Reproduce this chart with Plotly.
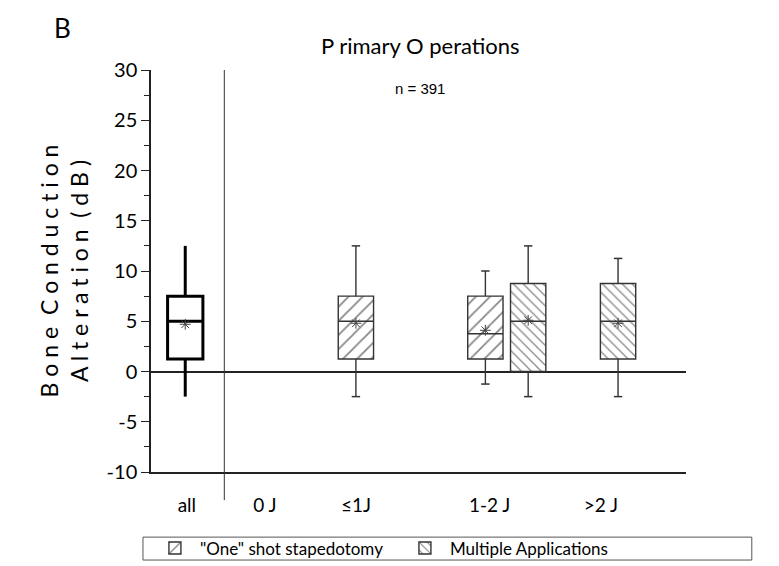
import plotly.graph_objects as go

# Bone conduction alteration (dB) per energy group, primary operations
categories = ["all", "0 J", "≤1J", "1-2 J", ">2 J"]
tick_pos = [0.67, 2.13, 3.83, 6.33, 8.41]
y_ticks = [-10, -5, 0, 5, 10, 15, 20, 25, 30]
y_tick_text = ["-10", "-5", "0", "5", "10", "15", "20", "25", "30"]

# Box statistics: lower whisker, Q1, median, Q3, upper whisker, mean
all_stats = dict(lo=-2.5, q1=1.25, med=5.0, q3=7.5, hi=12.5, mean=4.7)

one_shot_pos = [3.83, 6.25]
one_shot_lo = [-2.5, -1.25]
one_shot_q1 = [1.25, 1.25]
one_shot_med = [5.0, 3.75]
one_shot_q3 = [7.5, 7.5]
one_shot_hi = [12.5, 10.0]
one_shot_mean = [4.8, 4.1]

multi_pos = [7.05, 8.73]
multi_lo = [-2.5, -2.5]
multi_q1 = [0.0, 1.25]
multi_med = [5.0, 5.0]
multi_q3 = [8.75, 8.75]
multi_hi = [12.5, 11.25]
multi_mean = [5.1, 4.8]

all_pos = 0.64
separator_x = 1.37
box_w = 0.66

FONT = "Lato, Liberation Sans, sans-serif"
fig = go.Figure()


def add_boxes(pos, lo, q1, med, q3, hi, mean, name, shape, hatch, line_color,
              lw, show_legend, caps=True):
    fig.add_trace(go.Bar(
        x=pos, y=[b - a for a, b in zip(q1, q3)], base=q1, width=box_w,
        name=name, showlegend=show_legend,
        marker=dict(color="white", line=dict(color=line_color, width=lw),
                    pattern=dict(shape=shape, fgcolor="#111", bgcolor="white",
                                 size=hatch, solidity=0.18) if shape else None),
    ))
    wx, wy, mx, my = [], [], [], []
    for p, a, b, m, c, d in zip(pos, lo, q1, med, q3, hi):
        wx += [p, p, None, p, p, None]
        wy += [c, d, None, b, a, None]
        mx += [p - box_w / 2, p + box_w / 2, None]
        my += [m, m, None]
    fig.add_trace(go.Scatter(x=wx, y=wy, mode="lines", showlegend=False,
                             line=dict(color=line_color, width=lw),
                             hoverinfo="skip"))
    fig.add_trace(go.Scatter(x=mx, y=my, mode="lines", showlegend=False,
                             line=dict(color=line_color, width=lw),
                             hoverinfo="skip"))
    if caps:
        fig.add_trace(go.Scatter(
            x=pos + pos, y=lo + hi, mode="markers", showlegend=False,
            marker=dict(symbol="line-ew", size=6, color=line_color,
                        line=dict(color=line_color, width=1.5)),
            hoverinfo="skip"))
    fig.add_trace(go.Scatter(
        x=pos, y=mean, mode="markers", showlegend=False,
        marker=dict(symbol="asterisk-open", size=9, color="#444",
                    line=dict(color="#444", width=1)),
        hoverinfo="skip"))


add_boxes([all_pos], [all_stats["lo"]], [all_stats["q1"]], [all_stats["med"]],
          [all_stats["q3"]], [all_stats["hi"]], [all_stats["mean"]],
          "all", None, 0, "black", 3, False, caps=False)
add_boxes(one_shot_pos, one_shot_lo, one_shot_q1, one_shot_med, one_shot_q3,
          one_shot_hi, one_shot_mean, '"One" shot stapedotomy', "/", 10,
          "#333", 1.4, True)
add_boxes(multi_pos, multi_lo, multi_q1, multi_med, multi_q3, multi_hi,
          multi_mean, "Multiple Applications", "\\", 7, "#333", 1.4, True)

# vertical separator between "all" and the energy groups
fig.add_shape(type="line", xref="x", yref="paper", x0=separator_x,
              x1=separator_x, y0=-0.07, y1=1.0,
              line=dict(color="#333", width=1))

# frame around the legend row
fig.add_shape(type="rect", xref="paper", yref="paper",
              x0=-0.015, x1=1.123, y0=-0.219, y1=-0.162,
              line=dict(color="#555", width=1))

fig.add_annotation(text="B", xref="paper", yref="paper", x=-0.185, y=1.105,
                   xanchor="left", yanchor="middle", showarrow=False,
                   font=dict(family=FONT, size=26, color="black"))
fig.add_annotation(text="P rimary O perations", xref="paper",
                   yref="paper", x=0.503, y=1.062, xanchor="center",
                   yanchor="middle", showarrow=False,
                   font=dict(family=FONT, size=22, color="black"))
fig.add_annotation(text="n = 391", xref="paper", yref="paper",
                   x=0.503, y=0.955, xanchor="center", yanchor="middle",
                   showarrow=False,
                   font=dict(family="Liberation Sans, Arial, sans-serif",
                             size=15, color="black"))

fig.update_layout(
    width=779, height=566,
    margin=dict(l=151, r=93, t=70, b=94, autoexpand=False),
    paper_bgcolor="white", plot_bgcolor="white",
    barmode="overlay",
    font=dict(family=FONT, color="black"),
    xaxis=dict(range=[0, 10], tickvals=tick_pos, ticktext=categories,
               showgrid=False, zeroline=False, showline=True,
               linecolor="#222", linewidth=1.5, ticks="",
               tickfont=dict(size=19), ticklabelstandoff=15),
    yaxis=dict(range=[-10, 30], tickvals=y_ticks, ticktext=y_tick_text,
               showgrid=False, zeroline=True, zerolinecolor="#222",
               zerolinewidth=1.5, showline=True, linecolor="#222",
               linewidth=1.5, ticks="outside", ticklen=8, tickwidth=1.2,
               tickcolor="#222", tickfont=dict(size=20),
               minor=dict(dtick=2.5, tick0=0, ticks="outside", ticklen=5,
                          tickwidth=1.2, tickcolor="#222"),
               title=dict(text="B o n e  C o n d u c t i o n<br>"
                               "A l t e r a t i o n  ( d B )",
                          font=dict(size=23), standoff=12)),
    legend=dict(orientation="h", xanchor="left", yanchor="middle",
                x=-0.002, y=-0.19, borderwidth=0, bgcolor="rgba(0,0,0,0)",
                font=dict(size=17), entrywidth=195,
                itemwidth=40, tracegroupgap=0),
    showlegend=True,
)

fig.write_html("out.html")
